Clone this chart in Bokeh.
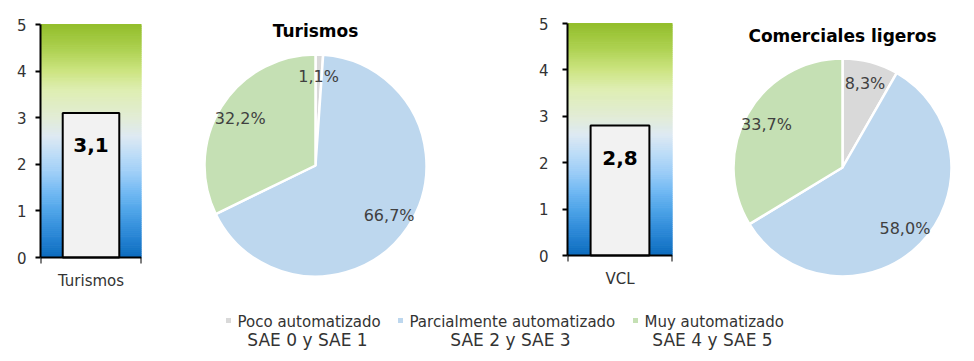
import numpy as np
from bokeh.plotting import figure
from bokeh.models import Range1d, FixedTicker, LinearAxis
from bokeh.layouts import row, column
from bokeh.embed import file_html
from bokeh.resources import INLINE
from bokeh.core.properties import value

# ---------------- data ----------------
bar_categories_1 = ["Turismos"]
bar_values_1 = [3.1]
bar_categories_2 = ["VCL"]
bar_values_2 = [2.8]
y_ticks = [0, 1, 2, 3, 4, 5]

pie_title_1 = "Turismos"
pie_values_1 = [1.1, 66.7, 32.2]
pie_title_2 = "Comerciales ligeros"
pie_values_2 = [8.3, 58.0, 33.7]

legend_names = ["Poco automatizado", "Parcialmente automatizado", "Muy automatizado"]
legend_sub = ["SAE 0 y SAE 1", "SAE 2 y SAE 3", "SAE 4 y SAE 5"]

# ---------------- style ----------------
FONT = "DejaVu Sans"
TXT = "#333333"
PIE_COLORS = ["#d9d9d9", "#bdd7ee", "#c5e0b4"]
GRAD_STOPS = [
    (0.0, "#0b6bbd"), (0.5, "#2b87d6"), (1.0, "#4ea4e8"), (1.4, "#72b9f3"),
    (1.8, "#9ccdf7"), (2.2, "#bcdcf7"), (2.6, "#dde9f3"), (3.0, "#e2ecd6"),
    (3.6, "#deeeb2"), (4.0, "#cde582"), (4.5, "#acd04f"), (5.0, "#93be2b"),
]
ROW_H = 298


def hex2rgb(h):
    return np.array([int(h[i:i + 2], 16) for i in (1, 3, 5)], dtype=float)


def grad_color(v):
    pos = [s[0] for s in GRAD_STOPS]
    cols = np.array([hex2rgb(s[1]) for s in GRAD_STOPS])
    rgb = [np.interp(v, pos, cols[:, k]) for k in range(3)]
    return "#%02x%02x%02x" % tuple(int(round(c)) for c in rgb)


def fmt(v, dec):
    return (f"{v:.{dec}f}").replace(".", ",")


def bare_fig(width, xr, yr, left=0, right=0):
    p = figure(width=width, height=ROW_H, x_range=Range1d(*xr), y_range=Range1d(*yr),
               output_backend="svg", toolbar_location=None,
               x_axis_type=None, y_axis_type=None,
               min_border_left=left, min_border_right=right,
               min_border_top=0, min_border_bottom=0,
               outline_line_color=None, background_fill_color="white")
    p.xgrid.visible = False
    p.ygrid.visible = False
    return p


def bar_fig(cats, vals, width, left, right, y0_px, y5_px, standoff=10):
    n = len(cats)
    ymax = y_ticks[-1]
    ppu = (y0_px - y5_px) / ymax
    yr = (-(ROW_H - y0_px) / ppu, ymax + y5_px / ppu)
    p = bare_fig(width, (-0.5, n - 0.5), yr, left, right)
    edges = np.linspace(0, ymax, 121)
    mids = (edges[:-1] + edges[1:]) / 2
    cols = [grad_color(m) for m in mids]
    p.quad(left=-0.5, right=n - 0.5, bottom=edges[:-1], top=edges[1:],
           fill_color=cols, line_color=cols, line_width=1)
    xs = list(range(n))
    p.vbar(x=xs, top=vals, bottom=0, width=0.56, fill_color="#f2f2f2",
           line_color="black", line_width=2)
    p.text(x=xs, y=vals, text=[fmt(v, 1) for v in vals], text_font=value(FONT),
           text_font_style="bold", text_font_size="20px", text_color="black",
           text_align="center", text_baseline="middle", y_offset=32)
    yax = LinearAxis(ticker=FixedTicker(ticks=y_ticks), bounds=(0, ymax),
                     axis_line_width=2, axis_line_color="black",
                     major_tick_line_width=2, major_tick_line_color="black",
                     major_tick_in=0, major_tick_out=5, minor_tick_line_color=None,
                     major_label_text_font=FONT, major_label_text_font_size="15px",
                     major_label_text_color=TXT, major_label_standoff=standoff)
    p.add_layout(yax, "left")
    xax = LinearAxis(ticker=FixedTicker(ticks=xs, minor_ticks=[i - 0.5 for i in range(n + 1)]),
                     fixed_location=0,
                     major_label_overrides={i: c for i, c in enumerate(cats)},
                     axis_line_width=2, axis_line_color="black",
                     major_tick_line_color=None, major_tick_in=0, major_tick_out=6,
                     minor_tick_line_color="black", minor_tick_line_width=2,
                     minor_tick_in=0, minor_tick_out=6,
                     major_label_text_font=FONT, major_label_text_font_size="15px",
                     major_label_text_color=TXT, major_label_standoff=8)
    p.add_layout(xax, "below")
    return p


def pie_fig(title, vals, width, xr, yr, radius, title_y):
    p = bare_fig(width, xr, yr)
    fr = np.array(vals) / np.sum(vals)
    cum = np.concatenate([[0.0], np.cumsum(fr)])
    start = np.pi / 2 - 2 * np.pi * cum[:-1]
    end = np.pi / 2 - 2 * np.pi * cum[1:]
    p.wedge(x=0, y=0, radius=radius, start_angle=start, end_angle=end,
            direction="clock", fill_color=PIE_COLORS, line_color="white", line_width=2.5)
    mid = (start + end) / 2
    lx = 0.8 * radius * np.cos(mid)
    ly = 0.8 * radius * np.sin(mid)
    p.text(x=lx, y=ly, text=[fmt(v, 1) + "%" for v in vals], text_font=value(FONT),
           text_font_size="16px", text_color="#404040", text_align="center",
           text_baseline="middle")
    p.text(x=[0], y=[title_y], text=[title], text_font=value(FONT), text_font_style="bold",
           text_font_size="17px", text_color="black", text_align="center",
           text_baseline="middle")
    return p


b1 = bar_fig(bar_categories_1, bar_values_1, 180, 40, 39, 257, 24, standoff=9)
pie1 = pie_fig(pie_title_1, pie_values_1, 270, (-1.35, 1.35), (-1.33, 1.65), 1.11, 1.35)
b2 = bar_fig(bar_categories_2, bar_values_2, 250, 117, 28, 255, 23, standoff=14)
pie2 = pie_fig(pie_title_2, pie_values_2, 274, (-1.42, 1.32), (-1.31, 1.67), 1.09, 1.32)

# legend
LEG_H = 63
leg = figure(width=974, height=LEG_H, x_range=Range1d(0, 974), y_range=Range1d(0, LEG_H),
             output_backend="svg", toolbar_location=None, x_axis_type=None,
             y_axis_type=None, min_border=0, outline_line_color=None)
leg.xgrid.visible = False
leg.ygrid.visible = False
marker_x = [228, 400, 635]
center_x = [307, 510, 712]
leg.scatter(x=marker_x, y=[LEG_H - 22] * 3, marker="square", size=5, fill_color=PIE_COLORS,
            line_color=None)
leg.text(x=[m + 9 for m in marker_x], y=[LEG_H - 23] * 3, text=legend_names,
         text_font=value(FONT), text_font_size="15px", text_color=TXT,
         text_align="left", text_baseline="middle")
leg.text(x=center_x, y=[LEG_H - 41] * 3, text=legend_sub, text_font=value(FONT),
         text_font_size="17px", text_color=TXT, text_align="center", text_baseline="middle")

layout = column(row(b1, pie1, b2, pie2), leg)
open("out.html", "w").write(file_html(layout, INLINE))
